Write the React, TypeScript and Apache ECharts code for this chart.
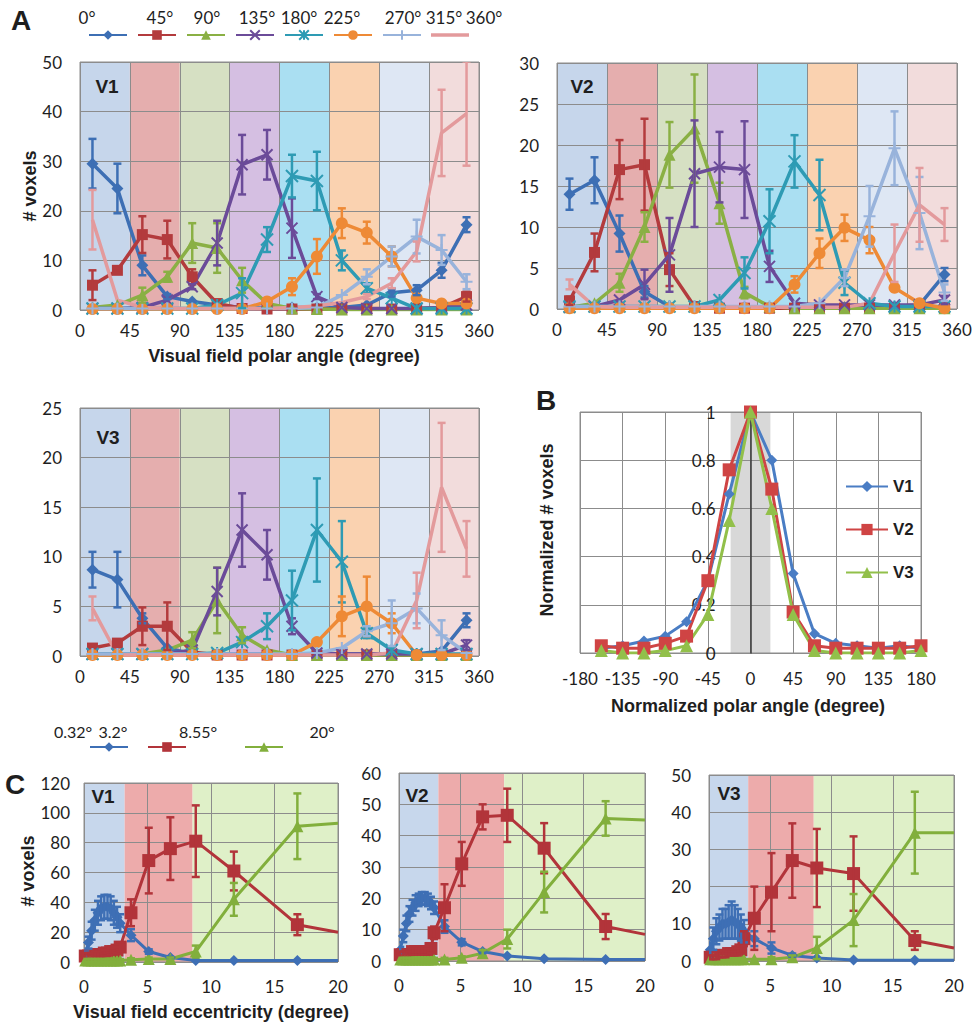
import React, { useEffect, useRef } from 'react';
import * as echarts from 'echarts';

// ---------------- Panel A (polar angle tuning) ----------------
const polarX = [11.25, 33.75, 56.25, 78.75, 101.25, 123.75, 146.25, 168.75, 191.25, 213.75, 236.25, 258.75, 281.25, 303.75, 326.25, 348.75];
const binNames = ['0°–45°', '45°–90°', '90°–135°', '135°–180°', '180°–225°', '225°–270°', '270°–315°', '315°–360°'];
const boundaryLabels = ['0°', '45°', '90°', '135°', '180°', '225°', '270°', '315°', '360°'];
const bandEdgesA = [0, 45, 90, 135, 180, 225, 270, 315, 360];

// V1
const a1_0 = [29.5, 24.5, 9, 2.7, 1.7, 1, 0.5, 0.5, 0.5, 0.5, 0.5, 1, 3.5, 4, 8, 17.2];
const a1e_0 = [5, 5, 2, 0.5, 0, 0, 0, 0, 0, 0, 0, 0, 0.8, 1, 1.5, 1.5];
const a1_45 = [5, 8, 15.2, 14.2, 6.7, 1.3, 0.3, 0.2, 0.2, 0.2, 0.2, 0.2, 0.2, 0.3, 0.5, 2.7];
const a1e_45 = [3, 0.5, 3.7, 3.8, 1.5, 0, 0, 0, 0, 0, 0, 0, 0, 0, 0, 1];
const a1_90 = [0.5, 1, 3, 6.7, 13.5, 12.5, 6, 1.3, 0.3, 0.2, 0.1, 0.1, 0.1, 0.1, 0.1, 0.1];
const a1e_90 = [0, 0, 1.5, 1, 4, 5, 2.5, 0, 0, 0, 0, 0, 0, 0, 0, 0];
const a1_135 = [0.3, 0.3, 0.5, 2, 4.7, 13.5, 29.3, 31.3, 16.5, 2.7, 0.5, 0.3, 0.3, 0.3, 0.5, 1];
const a1e_135 = [0, 0, 0, 0, 0.5, 4.5, 6, 5, 6, 0.5, 0, 0, 0, 0, 0, 0];
const a1_180 = [0.3, 0.3, 0.3, 0.3, 0.3, 1, 3.4, 14.2, 27, 26, 10, 4.4, 2.4, 0.3, 0.3, 0.3];
const a1e_180 = [0, 0, 0, 0, 0, 0, 3, 2.5, 4.3, 5.9, 2, 1, 0, 0, 0, 0];
const a1_225 = [0.2, 0.2, 0.2, 0.2, 0.2, 0.2, 0.2, 1.7, 4.7, 10.8, 17.5, 15.6, 10.8, 2.4, 1.3, 1.3];
const a1e_225 = [0, 0, 0, 0, 0, 0, 0, 0, 1.7, 3.5, 3, 2.2, 2, 0, 0, 0];
const a1_270 = [0.3, 0.3, 0.3, 0.3, 0.3, 0.3, 0.3, 0.3, 0.3, 0.5, 3, 6.7, 10.8, 14.8, 12.1, 5.7];
const a1e_270 = [0, 0, 0, 0, 0, 0, 0, 0, 0, 0, 0, 1.5, 2, 3.4, 3, 1.5];
const a1_315 = [18.2, 2, 0.5, 0.3, 0.3, 0.3, 0.3, 0.3, 0.5, 0.8, 1.5, 2.7, 5.4, 11.8, 35.7, 39.6];
const a1e_315 = [6, 0, 0, 0, 0, 0, 0, 0, 0, 0, 0, 0.5, 1, 2, 8.7, 10.5];

// V2
const a2_0 = [14, 15.7, 9.2, 2.1, 0.3, 0.2, 0.2, 0.2, 0.2, 0.2, 0.2, 0.2, 0.3, 0.3, 0.5, 4.2];
const a2e_0 = [1.9, 2.8, 2.2, 0.7, 0, 0, 0, 0, 0, 0, 0, 0, 0, 0, 0, 0.8];
const a2_45 = [1, 6.9, 17, 17.6, 4.8, 0.3, 0.1, 0.1, 0.1, 0.1, 0.1, 0.1, 0.1, 0.1, 0.1, 0.1];
const a2e_45 = [0.5, 2.3, 3.6, 5.6, 2, 0, 0, 0, 0, 0, 0, 0, 0, 0, 0, 0];
const a2_90 = [0.2, 0.7, 3.2, 10, 18.8, 22, 12.9, 2, 0.3, 0.1, 0.1, 0.1, 0.1, 0.1, 0.1, 0.1];
const a2e_90 = [0, 0, 1.1, 1.8, 4, 6.6, 2.5, 0.7, 0, 0, 0, 0, 0, 0, 0, 0];
const a2_135 = [0.2, 0.3, 1.1, 3, 6.6, 16.5, 17.3, 17, 5.2, 0.7, 0.5, 0.5, 0.5, 0.5, 0.5, 1.1];
const a2e_135 = [0, 0, 0, 1.8, 4.5, 6.5, 4.3, 5.9, 1.9, 0, 0, 0, 0, 0, 0, 0.5];
const a2_180 = [0.3, 0.3, 0.3, 0.3, 0.3, 0.3, 1.1, 4.4, 10.7, 18, 13.9, 3.2, 0.7, 0.3, 0.3, 0.3];
const a2e_180 = [0, 0, 0, 0, 0, 0, 0, 1.9, 3.9, 3.2, 4.3, 1.5, 0, 0, 0, 0];
const a2_225 = [0.1, 0.1, 0.1, 0.1, 0.1, 0.1, 0.1, 0.1, 0.1, 3, 6.8, 9.9, 8.4, 2.6, 0.7, 0.1];
const a2e_225 = [0, 0, 0, 0, 0, 0, 0, 0, 0, 1, 1.8, 1.6, 1.6, 0, 0, 0];
const a2_270 = [0.3, 0.3, 0.3, 0.3, 0.3, 0.3, 0.3, 0.3, 0.3, 0.3, 0.7, 3.8, 11.3, 19.6, 11.7, 2];
const a2e_270 = [0, 0, 0, 0, 0, 0, 0, 0, 0, 0, 0, 1, 3.7, 4.5, 4.4, 1];
const a2_315 = [3, 0.3, 0.2, 0.2, 0.2, 0.2, 0.2, 0.2, 0.2, 0.2, 0.2, 0.2, 0.7, 6.8, 12.7, 10.3];
const a2e_315 = [0.6, 0, 0, 0, 0, 0, 0, 0, 0, 0, 0, 0, 0, 3.5, 4.5, 2];

// V3
const a3_0 = [8.7, 7.7, 3.8, 0.8, 0.2, 0.2, 0.2, 0.2, 0.2, 0.2, 0.2, 0.2, 0.2, 0.2, 0.5, 3.6];
const a3e_0 = [1.8, 2.8, 0.5, 0, 0, 0, 0, 0, 0, 0, 0, 0, 0, 0, 0, 0.7];
const a3_45 = [0.8, 1.3, 3, 3, 0.4, 0.1, 0.1, 0.1, 0.1, 0.1, 0.1, 0.1, 0.1, 0.1, 0.1, 0.1];
const a3e_45 = [0.3, 0, 1.9, 2.4, 0, 0, 0, 0, 0, 0, 0, 0, 0, 0, 0, 0];
const a3_90 = [0.2, 0.2, 0.2, 0.6, 1.6, 5.6, 2.1, 0.6, 0.1, 0.1, 0.1, 0.1, 0.1, 0.1, 0.1, 0.1];
const a3e_90 = [0, 0, 0, 0, 0.8, 3.3, 0.8, 0, 0, 0, 0, 0, 0, 0, 0, 0];
const a3_135 = [0.2, 0.2, 0.2, 0.2, 0.6, 6.5, 12.7, 10.2, 3, 0.3, 0.2, 0.2, 0.2, 0.2, 0.2, 1.1];
const a3e_135 = [0, 0, 0, 0, 0, 2.4, 3.7, 2.5, 0.8, 0, 0, 0, 0, 0, 0, 0.5];
const a3_180 = [0.2, 0.2, 0.2, 0.2, 0.2, 0.3, 1.4, 3, 5.6, 12.7, 9.5, 2.3, 0.6, 0.2, 0.2, 0.2];
const a3e_180 = [0, 0, 0, 0, 0, 0, 0, 1.3, 3, 5.2, 4.1, 0.5, 0, 0, 0, 0];
const a3_225 = [0.1, 0.1, 0.1, 0.1, 0.1, 0.1, 0.1, 0.1, 0.1, 1.4, 4, 5, 3.3, 0.1, 0.1, 0.1];
const a3e_225 = [0, 0, 0, 0, 0, 0, 0, 0, 0, 0, 2, 3, 1, 0, 0, 0];
const a3_270 = [0.2, 0.2, 0.2, 0.2, 0.2, 0.2, 0.2, 0.2, 0.2, 0.3, 0.8, 2.5, 3.3, 4.8, 2.1, 0.3];
const a3e_270 = [0, 0, 0, 0, 0, 0, 0, 0, 0, 0, 0, 0.5, 2.3, 1.5, 1.5, 0];
const a3_315 = [4.8, 0.1, 0.1, 0.1, 0.1, 0.1, 0.1, 0.1, 0.1, 0.1, 0.1, 0.1, 0.3, 5.6, 17, 10.8];
const a3e_315 = [1.2, 0, 0, 0, 0, 0, 0, 0, 0, 0, 0, 0, 0, 2.8, 6.5, 2.8];

// ---------------- Panel B (normalized tuning) ----------------
const bX = [-157.5, -135, -112.5, -90, -67.5, -45, -22.5, 0, 22.5, 45, 67.5, 90, 112.5, 135, 157.5, 180];
const bV1 = [0.02, 0.03, 0.05, 0.07, 0.13, 0.3, 0.66, 1, 0.8, 0.33, 0.08, 0.04, 0.03, 0.02, 0.03, 0.02];
const bV2 = [0.03, 0.02, 0.02, 0.04, 0.07, 0.3, 0.76, 1, 0.68, 0.17, 0.03, 0.02, 0.02, 0.02, 0.02, 0.03];
const bV3 = [0.01, 0, 0, 0.01, 0.03, 0.16, 0.55, 1, 0.6, 0.16, 0.01, 0, 0, 0, 0, 0.01];
const bBand = [-21, 21];

// ---------------- Panel C (eccentricity) ----------------
const eccX = [0.1, 0.35, 0.6, 0.85, 1.1, 1.35, 1.6, 1.85, 2.1, 2.35, 2.6, 2.85, 3.7, 5.1, 6.8, 8.8, 11.8, 16.8, 20];
const eccNames = ['0.32°–3.2°', '3.2°–8.55°', '8.55°–20°'];
const eccLabels = ['0.32°', '3.2°', '8.55°', '20°'];
const bandEdgesC = [0, 3.2, 8.55, 20];

const c1_a = [5, 13, 21, 28, 33, 36, 37, 37, 36, 33, 30, 26, 18, 7, 3, 1, 1, 1, 1];
const c1e_a = [2, 4, 6, 7, 8, 8, 8, 8, 8, 8, 7, 6, 4, 1.5, 0.5, 0, 0, 0, 0];
const c1_b = [4, 4, 4, 5, 5, 5, 6, 6, 7, 7, 8, 10, 33, 68, 76, 81, 61, 25, 20];
const c1e_b = [2, 2, 2, 2, 2, 2, 2, 2, 2, 2, 2, 3, 9, 22, 21, 24, 13, 7, 0];
const c1_c = [1, 1, 1, 1, 1, 1, 1, 1, 1, 1, 1, 1, 1.5, 2, 2, 7, 42, 91, 93];
const c1e_c = [1, 1, 1, 1, 1, 1, 1, 1, 1, 1, 1, 1, 1, 1, 1, 4, 11, 22, 0];

const c2_a = [3.5, 8, 12, 15, 17, 18.5, 19.5, 20, 20, 19.5, 18.5, 17, 11, 6, 3, 1.6, 0.7, 0.5, 0.5];
const c2e_a = [1, 2, 2.5, 2.5, 2.5, 2.5, 2, 2, 2, 2, 2, 2, 2, 1, 0.5, 0, 0, 0, 0];
const c2_b = [2, 2, 2, 2, 3, 3, 3, 3, 3, 3, 4, 9, 17, 31, 46, 46.5, 36, 11, 8.5];
const c2e_b = [1, 1, 1, 1, 1, 1, 1, 1, 1, 1, 1.5, 2, 7.5, 7, 4, 8.5, 8, 4, 0];
const c2_c = [0.5, 0.5, 0.5, 0.5, 0.5, 0.5, 0.5, 0.5, 0.5, 0.5, 0.5, 0.5, 0.5, 1, 2.5, 7, 22, 45.5, 45];
const c2e_c = [0.5, 0.5, 0.5, 0.5, 0.5, 0.5, 0.5, 0.5, 0.5, 0.5, 0.5, 0.5, 0.5, 0.5, 1, 3, 6.5, 5.5, 0];

const c3_a = [3, 6, 8, 9, 10, 10, 10.5, 11, 10.5, 10, 9, 8, 6, 3.5, 1.5, 0.8, 0.3, 0.2, 0.2];
const c3e_a = [2, 3, 3.5, 3.5, 4, 4, 4.5, 5, 4.5, 4, 3.5, 3, 2, 1.5, 0.5, 0, 0, 0, 0];
const c3_b = [1, 1, 1, 1.5, 1.5, 1.5, 2, 2, 2, 2.5, 3, 6, 11.5, 18.5, 27, 25, 23.5, 5.5, 3.5];
const c3e_b = [0.5, 0.5, 0.5, 0.5, 0.5, 0.5, 0.5, 0.5, 0.5, 1, 1, 2, 8.5, 10.5, 10, 10.5, 10, 2.5, 0];
const c3_c = [0.5, 0.5, 0.5, 0.5, 0.5, 0.5, 0.5, 0.5, 0.5, 0.5, 0.5, 0.5, 0.5, 0.5, 1, 3.5, 11, 34.5, 34.5];
const c3e_c = [0.3, 0.3, 0.3, 0.3, 0.3, 0.3, 0.3, 0.3, 0.3, 0.3, 0.3, 0.3, 0.3, 0.5, 0.5, 3, 7, 11, 0];

// ---------------- styles ----------------
const A_COLORS = ['#3D6FB4', '#B33B3D', '#8AB044', '#6B4B99', '#2E9BB4', '#EE8A36', '#98B3DB', '#E39A9C'];
const A_SYMBOLS = ['diamond', 'rect', 'triangle', 'path://M0,0L10,10M10,0L0,10', 'path://M5,0L5,10M0,0L10,10M10,0L0,10', 'circle', 'path://M0,5L10,5M5,0L5,10', 'none'];
const A_SYMSIZE = [12, 11, 12, 11, 12, 12, 12, 0];
const A_STROKED = [false, false, false, true, true, false, true, false];
const BAND_A = ['#C6D6EB', '#E5AEAE', '#D6E0C3', '#D5BFE2', '#AADFF2', '#FAD2B0', '#DEE7F4', '#F2DCDC'];
const C_COLORS = ['#3E6FB5', '#B2343A', '#82AF3C'];
const C_SYMBOLS = ['diamond', 'rect', 'triangle'];
const BAND_C = ['#C7D7EC', '#EDABAB', '#DFF0C8'];
const B_COLORS = ['#4A7DC4', '#CF4444', '#92C04A'];

const GRID_COLOR = '#8C8C8C';
const TEXT = '#1E1E1E';
const LABEL_FONT = 'Lato';
const TITLE_FONT = 'Liberation Sans';

const aPanels = [
  { vals: [a1_0, a1_45, a1_90, a1_135, a1_180, a1_225, a1_270, a1_315], errs: [a1e_0, a1e_45, a1e_90, a1e_135, a1e_180, a1e_225, a1e_270, a1e_315] },
  { vals: [a2_0, a2_45, a2_90, a2_135, a2_180, a2_225, a2_270, a2_315], errs: [a2e_0, a2e_45, a2e_90, a2e_135, a2e_180, a2e_225, a2e_270, a2e_315] },
  { vals: [a3_0, a3_45, a3_90, a3_135, a3_180, a3_225, a3_270, a3_315], errs: [a3e_0, a3e_45, a3e_90, a3e_135, a3e_180, a3e_225, a3e_270, a3e_315] },
];
const cPanels = [
  { vals: [c1_a, c1_b, c1_c], errs: [c1e_a, c1e_b, c1e_c] },
  { vals: [c2_a, c2_b, c2_c], errs: [c2e_a, c2e_b, c2e_c] },
  { vals: [c3_a, c3_b, c3_c], errs: [c3e_a, c3e_b, c3e_c] },
];

const grids = [
  { left: 80, top: 62, width: 399, height: 248 },
  { left: 557, top: 63, width: 400, height: 246 },
  { left: 80, top: 408, width: 399, height: 248 },
  { left: 580, top: 412, width: 341, height: 241 },
  { left: 84, top: 783, width: 254, height: 179 },
  { left: 399, top: 773, width: 246, height: 188 },
  { left: 709, top: 775, width: 245, height: 186 },
];

function bandSeries(g: number, edges: number[], colors: string[]) {
  const data = colors.map((_, i) => [edges[i], edges[i + 1], i, 0]);
  return {
    type: 'custom', xAxisIndex: g, yAxisIndex: g, z: 0, silent: true,
    data, encode: { x: [0, 1], y: 3 },
    renderItem: (params: any, api: any) => {
      const a = api.coord([api.value(0), 0]);
      const b = api.coord([api.value(1), 0]);
      const cs = params.coordSys;
      return { type: 'rect', shape: { x: a[0], y: cs.y, width: b[0] - a[0], height: cs.height }, style: { fill: colors[api.value(2)] } };
    },
  };
}

function errorSeries(g: number, xs: number[], vals: number[][], errs: number[][], colors: string[], capHalf: number, lw: number) {
  const data: number[][] = [];
  vals.forEach((vs, s) => {
    vs.forEach((v, i) => {
      const e = errs[s][i];
      if (e > 0.3) {
        const lo = v - e;
        data.push([xs[i], Math.max(0, lo), v + e, s, lo < 0 ? 0 : 1]);
      }
    });
  });
  return {
    type: 'custom', xAxisIndex: g, yAxisIndex: g, z: 4, silent: true, clip: true,
    data, encode: { x: 0, y: [1, 2] },
    renderItem: (params: any, api: any) => {
      const x = api.value(0);
      const lo = api.coord([x, api.value(1)]);
      const hi = api.coord([x, api.value(2)]);
      const c = colors[api.value(3)];
      const st = { stroke: c, lineWidth: lw };
      const children: any[] = [
        { type: 'line', shape: { x1: hi[0], y1: hi[1], x2: lo[0], y2: lo[1] }, style: st },
        { type: 'line', shape: { x1: hi[0] - capHalf, y1: hi[1], x2: hi[0] + capHalf, y2: hi[1] }, style: st },
      ];
      if (api.value(4) === 1) children.push({ type: 'line', shape: { x1: lo[0] - capHalf, y1: lo[1], x2: lo[0] + capHalf, y2: lo[1] }, style: st });
      return { type: 'group', children };
    },
  };
}

function valueAxis(g: number, min: number, max: number, interval: number, margin: number, extra: any = {}) {
  return {
    type: 'value', gridIndex: g, min, max, interval, z: 1,
    axisLine: { show: false }, axisTick: { show: false },
    splitLine: { show: true, lineStyle: { color: GRID_COLOR, width: 1 } },
    axisLabel: { fontSize: 17, color: TEXT, fontFamily: LABEL_FONT, margin, showMinLabel: true, showMaxLabel: true, ...(extra.axisLabel || {}) },
    ...Object.fromEntries(Object.entries(extra).filter(([k]) => k !== 'axisLabel')),
  };
}

function text(t: string, x: number, y: number, size: number, bold: boolean, rot = 0, family = TITLE_FONT) {
  return {
    type: 'text', x, y, rotation: rot, silent: true, z: 20,
    style: { text: t, fill: TEXT, fontSize: size, fontWeight: bold ? 'bold' : 'normal', fontFamily: family, textAlign: 'center', textVerticalAlign: 'middle', align: 'center', verticalAlign: 'middle' },
  };
}

function buildOption() {
  const series: any[] = [];
  const xAxis: any[] = [];
  const yAxis: any[] = [];
  const aMax = [50, 30, 25];
  const aInt = [10, 5, 5];

  // Panel A
  aPanels.forEach((p, g) => {
    xAxis.push(valueAxis(g, 0, 360, 45, 12));
    yAxis.push(valueAxis(g, 0, aMax[g], aInt[g], 18));
    series.push(bandSeries(g, bandEdgesA, BAND_A));
    p.vals.forEach((vs, s) => {
      series.push({
        type: 'line', name: binNames[s], xAxisIndex: g, yAxisIndex: g, z: 2,
        data: polarX.map((x, i) => [x, vs[i]]),
        symbol: A_SYMBOLS[s], symbolSize: A_SYMSIZE[s], showSymbol: A_SYMBOLS[s] !== 'none',
        lineStyle: { color: A_COLORS[s], width: 3.5 },
        itemStyle: A_STROKED[s] ? { color: A_COLORS[s], borderColor: A_COLORS[s], borderWidth: 2 } : { color: A_COLORS[s] },
        emphasis: { disabled: true },
      });
    });
    series.push(errorSeries(g, polarX, p.vals, p.errs, A_COLORS, 4, 2.5));
  });

  // Panel B : y axis drawn at x = 0 (centre of the grid)
  const bg = grids[3];
  xAxis.push(valueAxis(3, -180, 180, 45, 17));
  yAxis.push(valueAxis(3, 0, 1, 0.2, 18, {
    offset: -bg.width / 2,
    axisLine: { show: true, onZero: false, lineStyle: { color: '#3A3A3A', width: 1.5 } },
    axisLabel: { align: 'right', padding: [0, 17, 0, 0] },
    z: 2,
  }));
  series.push(bandSeries(3, bBand, ['#D8D8D8']));
  [bV1, bV2, bV3].forEach((vs, s) => {
    series.push({
      type: 'line', name: ['V1', 'V2', 'V3'][s], xAxisIndex: 3, yAxisIndex: 3, z: 3,
      data: bX.map((x, i) => [x, vs[i]]),
      symbol: C_SYMBOLS[s], symbolSize: [11, 13, 13][s],
      lineStyle: { color: B_COLORS[s], width: 3 },
      itemStyle: { color: B_COLORS[s] },
      emphasis: { disabled: true },
    });
  });

  // Panel C
  const cMax = [120, 60, 50];
  const cInt = [20, 10, 10];
  const cMargin = [14, 18, 18];
  cPanels.forEach((p, k) => {
    const g = 4 + k;
    xAxis.push(valueAxis(g, 0, 20, 5, 16));
    yAxis.push(valueAxis(g, 0, cMax[k], cInt[k], cMargin[k]));
    series.push(bandSeries(g, bandEdgesC, BAND_C));
    p.vals.forEach((vs, s) => {
      series.push({
        type: 'line', name: eccNames[s], xAxisIndex: g, yAxisIndex: g, z: 2,
        data: eccX.map((x, i) => (i === eccX.length - 1 ? { value: [x, vs[i]], symbol: 'none' } : [x, vs[i]])),
        symbol: C_SYMBOLS[s], symbolSize: [11, 13, 12][s],
        lineStyle: { color: C_COLORS[s], width: 3 },
        itemStyle: { color: C_COLORS[s] },
        emphasis: { disabled: true },
      });
    });
    series.push(errorSeries(g, eccX, p.vals, p.errs, C_COLORS, 4, 2.5));
  });

  const legendBase = { selectedMode: false, formatter: () => '', itemHeight: 12, textStyle: { fontSize: 10 }, padding: 0 };
  const aLegendData = binNames.map((n, i) => (i === 7 ? { name: n, icon: 'path://M0,0L38,0L38,3.5L0,3.5Z' } : { name: n }));
  const legend: any[] = [
    { ...legendBase, left: 88, top: 29, itemWidth: 38, itemGap: 9, data: aLegendData },
    { ...legendBase, left: 89, top: 741, itemWidth: 38, data: [eccNames[0]] },
    { ...legendBase, left: 147, top: 741, itemWidth: 38, data: [eccNames[1]] },
    { ...legendBase, left: 244, top: 741, itemWidth: 38, data: [eccNames[2]] },
    {
      selectedMode: false, orient: 'vertical', left: 845, top: 478, itemWidth: 42, itemHeight: 14, itemGap: 26, padding: 0,
      textStyle: { fontSize: 17, fontWeight: 'bold', fontFamily: TITLE_FONT, color: TEXT },
      data: ['V1', 'V2', 'V3'],
    },
  ];

  const boundaryX = [87, 160, 207, 257, 299, 342, 403, 444, 484];
  const eccLabelX = [73, 113, 198, 322];
  const graphic: any[] = [
    text('A', 21, 20, 28, true),
    text('B', 546, 400, 28, true),
    text('C', 15, 784, 28, true),
    ...boundaryLabels.map((t, i) => text(t, boundaryX[i], 17, 17, false, 0, LABEL_FONT)),
    ...eccLabels.map((t, i) => text(t, eccLabelX[i], 731, 16, false, 0, LABEL_FONT)),
    text('V1', 107, 86, 19, true),
    text('V2', 582, 86, 19, true),
    text('V3', 108, 437, 19, true),
    text('V1', 103, 796, 19, true),
    text('V2', 417, 795, 19, true),
    text('V3', 729, 793, 19, true),
    text('# voxels', 30, 186, 18, true, Math.PI / 2),
    text('# voxels', 28, 871, 18, true, Math.PI / 2),
    text('Normalized # voxels', 547, 530, 18, true, Math.PI / 2),
    text('Visual field polar angle (degree)', 284, 356, 18, true),
    text('Normalized polar angle (degree)', 748, 706, 18, true),
    text('Visual field eccentricity (degree)', 211, 1012, 18, true),
  ];

  return {
    animation: false,
    backgroundColor: '#FFFFFF',
    grid: grids.map((gr) => ({ ...gr, show: true, borderColor: GRID_COLOR, borderWidth: 1, backgroundColor: 'transparent', containLabel: false, z: 1 })),
    xAxis, yAxis, series, legend, graphic,
  };
}

export default function App() {
  const ref = useRef<HTMLDivElement>(null);
  useEffect(() => {
    if (!ref.current) return;
    const chart = echarts.init(ref.current, null, { renderer: 'svg' });
    chart.setOption(buildOption() as any);
    return () => chart.dispose();
  }, []);
  return <div ref={ref} style={{ position: 'absolute', left: 0, top: 0, width: 976, height: 1029 }} />;
}
